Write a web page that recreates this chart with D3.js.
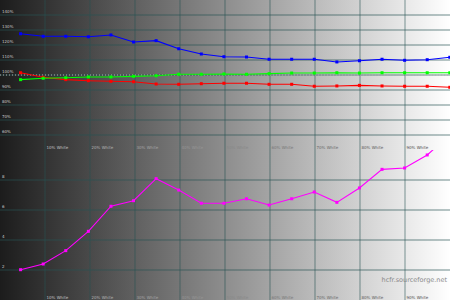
<!DOCTYPE html>
<html lang="en">
<head>
  <meta charset="UTF-8">
  <title>HCFR RGB levels and delta E</title>
  <script src="https://d3js.org/d3.v7.min.js"></script>
  <style>
    body { margin: 0; background: #fff; }
    svg { display: block; font-family: "DejaVu Sans", sans-serif; }
  </style>
</head>
<body>
  <div id="chart"></div>

  <script>
    // gray levels (% white) of the measured points
    const levels = [5, 10, 15, 20, 25, 30, 35, 40, 45, 50, 55, 60, 65, 70, 75, 80, 85, 90, 95, 100];
    const gridLevels = [10, 20, 30, 40, 50, 60, 70, 80, 90];

    // RGB levels in %
    const redLevels = [101.5, 98.5, 96.9, 96.2, 95.8, 95.5, 94.0, 93.8, 94.2, 94.5, 94.5, 93.8, 93.8, 92.5, 92.7, 93.1, 92.7, 92.5, 92.5, 91.8];
    const greenLevels = [96.9, 97.8, 98.2, 98.7, 98.7, 99.1, 99.5, 100.5, 100.5, 100.7, 100.5, 100.9, 101.3, 101.3, 101.5, 101.3, 101.5, 101.5, 101.5, 101.5];
    const blueLevels = [127.5, 125.8, 125.8, 125.5, 126.7, 122.0, 122.9, 117.5, 114.0, 112.2, 112.0, 110.5, 110.5, 110.5, 108.7, 109.5, 110.5, 109.8, 110.2, 111.8];
    const rgbTicks = [60, 70, 80, 90, 100, 110, 120, 130, 140];

    // delta E
    const deltaE = [2.02, 2.4, 3.29, 4.58, 6.25, 6.62, 8.09, 7.33, 6.45, 6.45, 6.75, 6.33, 6.75, 7.2, 6.51, 7.47, 8.71, 8.8, 9.67, 11.0];
    const deTicks = [2, 4, 6, 8];

    const width = 450, height = 300;
    const svg = d3.select('#chart').append('svg')
      .attr('width', width)
      .attr('height', height);

    const defs = svg.append('defs');
    const grad = defs.append('linearGradient').attr('id', 'bg').attr('x1', 0).attr('x2', 1).attr('y1', 0).attr('y2', 0);
    grad.append('stop').attr('offset', '0%').attr('stop-color', '#1c1c1c');
    grad.append('stop').attr('offset', '100%').attr('stop-color', '#ffffff');

    svg.append('rect').attr('width', width).attr('height', height).attr('fill', 'url(#bg)');

    const x = d3.scaleLinear().domain([0, 100]).range([0, width]);
    const xPt = d3.scaleLinear().domain([0, 100]).range([-2, 449.8]);
    const shade = d3.scaleLinear().domain([0, width]).range(['#cfcfcf', '#404040']);
    const gridColor = 'rgba(40,85,85,0.45)';

    function panel(top, yScale, ticks, fmt, series, refLine) {
      const g = svg.append('g');
      const clipId = 'clip' + top;
      defs.append('clipPath').attr('id', clipId)
        .append('rect').attr('x', 0).attr('y', top).attr('width', width).attr('height', 150);

      // horizontal grid
      g.selectAll('.hgrid').data(ticks).enter().append('line')
        .attr('x1', 0).attr('x2', width)
        .attr('y1', d => yScale(d)).attr('y2', d => yScale(d))
        .attr('stroke', gridColor).attr('stroke-width', 1.3);

      // vertical grid
      g.selectAll('.vgrid').data(gridLevels).enter().append('line')
        .attr('x1', d => x(d)).attr('x2', d => x(d))
        .attr('y1', top).attr('y2', top + 150)
        .attr('stroke', gridColor).attr('stroke-width', 1.3);

      if (refLine !== undefined) {
        g.append('line')
          .attr('x1', 0).attr('x2', width)
          .attr('y1', yScale(refLine)).attr('y2', yScale(refLine))
          .attr('stroke', '#b0b0b0').attr('stroke-width', 1)
          .attr('stroke-dasharray', '1,2');
      }

      // y labels
      g.selectAll('.ylab').data(ticks).enter().append('text')
        .attr('x', 2).attr('y', d => yScale(d) - 2)
        .attr('font-size', 4).attr('fill', '#c8c8c8')
        .text(fmt);

      // x labels
      g.selectAll('.xlab').data(gridLevels).enter().append('text')
        .attr('x', d => x(d) + 1.5).attr('y', top + 149)
        .attr('font-size', 4).attr('fill', d => shade(x(d)))
        .text(d => d + '% White');

      const plot = g.append('g').attr('clip-path', `url(#${clipId})`);
      series.forEach(s => {
        const line = d3.line().x((d, i) => xPt(levels[i])).y(d => yScale(d));
        plot.append('path').datum(s.values)
          .attr('d', line).attr('fill', 'none')
          .attr('stroke', s.color).attr('stroke-width', 1.1);
        plot.selectAll(null).data(s.values).enter().append('rect')
          .attr('x', (d, i) => xPt(levels[i]) - 1.5)
          .attr('y', d => yScale(d) - 1.5)
          .attr('width', 3).attr('height', 3)
          .attr('fill', s.color);
      });
    }

    // top: RGB levels
    const yRgb = d3.scaleLinear().domain([50, 150]).range([150, 0]);
    panel(0, yRgb, rgbTicks, d => d + '%', [
      { values: blueLevels, color: '#0000ff' },
      { values: redLevels, color: '#ff0000' },
      { values: greenLevels, color: '#00ff00' }
    ], 100);

    // bottom: delta E
    const yDe = d3.scaleLinear().domain([0, 10]).range([300, 150]);
    panel(150, yDe, deTicks, d => d, [
      { values: deltaE, color: '#ff00ff' }
    ]);

    svg.append('text')
      .attr('x', 447).attr('y', 282)
      .attr('text-anchor', 'end')
      .attr('font-size', 6.5).attr('fill', '#8a8a8a')
      .text('hcfr.sourceforge.net');
  </script>
</body>
</html>
